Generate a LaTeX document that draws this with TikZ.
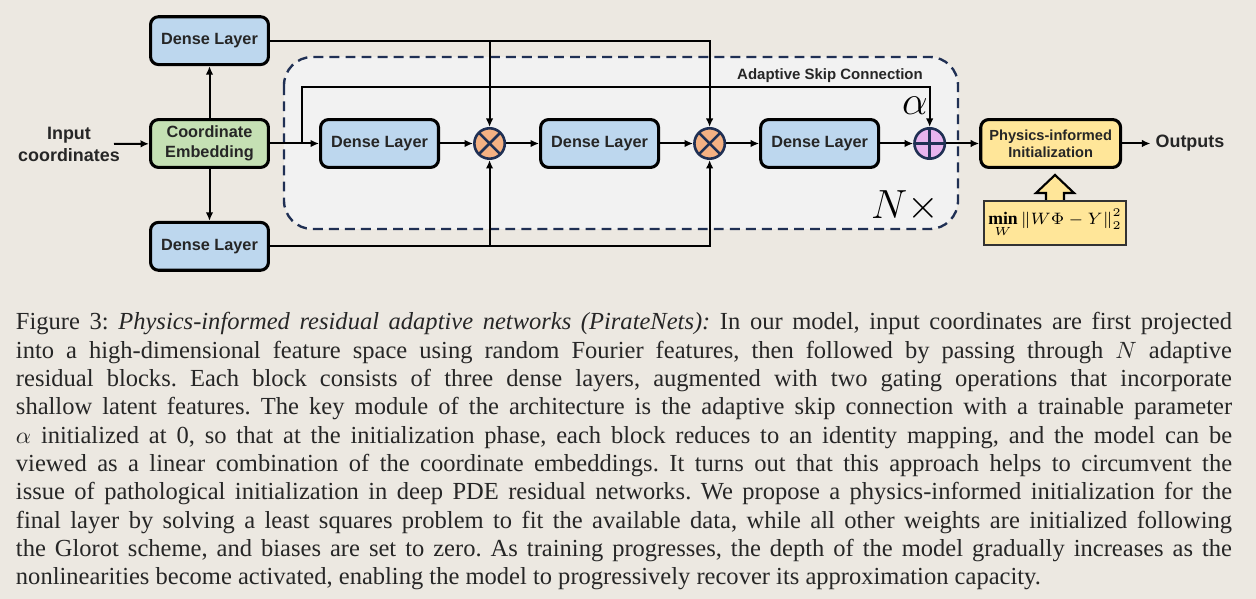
\documentclass[tikz,border=0pt]{standalone}
\usepackage{fontspec}
\usepackage{amsmath,amssymb}
\setmainfont{Liberation Serif}
\setsansfont{Liberation Sans}
\usetikzlibrary{arrows.meta,positioning,calc}
\definecolor{bgcol}{RGB}{236,232,225}
\definecolor{framefill}{RGB}{242,242,242}
\definecolor{navy}{RGB}{32,48,84}
\definecolor{denseblue}{RGB}{189,215,238}
\definecolor{embgreen}{RGB}{197,224,180}
\definecolor{physyellow}{RGB}{255,230,153}
\definecolor{mulorange}{RGB}{244,177,131}
\definecolor{addpink}{RGB}{232,180,238}
\definecolor{txtgray}{RGB}{38,38,38}
\tikzset{
    x=0.424pt,y=-0.424pt,
    >={Latex[length=3.6pt,width=3.2pt]},
    node distance =14pt and 14pt,
    conn/.style={line width=0.85pt},
    layer/.style={draw=black, fill=denseblue, rounded corners=3.4pt, line width=1.3pt,
        minimum width=50pt, minimum height=20.3pt, inner sep=0pt, align=center,
        text=txtgray, font=\sffamily\bfseries\fontsize{6.9}{8.5}\selectfont},
    embbox/.style={layer, fill=embgreen},
    physbox/.style={layer, fill=physyellow, minimum width=59.3pt,
        font=\sffamily\bfseries\fontsize{6.2}{7.1}\selectfont},
    gate/.style={circle, draw=navy, line width=1.1pt, minimum size=12.9pt, inner sep=0pt},
    mulgate/.style={gate, fill=mulorange, path picture={
        \draw[navy, line width=1.1pt] (path picture bounding box.north west) -- (path picture bounding box.south east)
            (path picture bounding box.north east) -- (path picture bounding box.south west);}},
    addgate/.style={gate, fill=addpink, path picture={
        \draw[navy, line width=1.1pt] (path picture bounding box.north) -- (path picture bounding box.south)
            (path picture bounding box.west) -- (path picture bounding box.east);}},
    lbl/.style={text=txtgray, align=center, inner sep=0pt, font=\sffamily\bfseries\fontsize{7.6}{9.3}\selectfont},
    fmlbox/.style={draw=black!80, fill=physyellow, line width=0.9pt, minimum width=60pt, minimum height=18.6pt, inner sep=0pt},
    fatarrow/.style={draw=black, fill=physyellow, line width=0.9pt},
    frame/.style={draw=navy, fill=framefill, line width=1pt, dash pattern=on 4.2pt off 2.6pt, rounded corners=12pt}
}

\begin{document}
\begin{tikzpicture}
    \fill[bgcol] (0,0) rectangle (1256,599);
    \useasboundingbox (0,0) rectangle (1256,599);
    \draw[frame] (284,57) rectangle (958,229);

    \node[embbox] (emb) at (209.5,143.5) {Coordinate\\Embedding};
    \node[layer] (dlTop) [above =22pt of emb] {Dense Layer};
    \node[layer] (dlBot) [below =22pt of emb] {Dense Layer};
    \node[layer] (dl1) [right =20.8pt of emb] {Dense Layer};
    \node[mulgate] (mul1) [right =of dl1] {};
    \node[layer] (dl2) [right =of mul1] {Dense Layer};
    \node[mulgate] (mul2) [right =of dl2] {};
    \node[layer] (dl3) [right =of mul2] {Dense Layer};
    \node[addgate] (addg) [right =of dl3] {};
    \node[physbox] (phys) [right =of addg] {Physics-informed\\Initialization};
    \node[lbl, inner sep=2pt] (out) [right =12pt of phys] {Outputs};
    \node[lbl] (inp) at (69,144) {Input\\coordinates};
    \node[fmlbox] (fml) at (1055,223) {\fontsize{7.5}{9}\selectfont$\displaystyle\mathop{\mathbf{min}}_W \|W\Phi - Y\|_2^2$};

    \node[text=txtgray, font=\sffamily\bfseries\fontsize{6.35}{7}\selectfont] (skiplbl) at (830,76) {Adaptive Skip Connection};
    \node[font=\fontsize{16}{18}\selectfont] (alpha) at (915,106) {$\alpha$};
    \node[font=\fontsize{16}{18}\selectfont] (ntimes) at (905,206) {$N\times$};

    \coordinate (instart) at (114,144);
    \coordinate (skipsplit) at ($(emb.east)+(32,0)$);
    \coordinate (skiptop) at ($(skipsplit)+(0,-56)$);

    \draw[conn,->] (instart) -- (emb);
    \draw[conn,->] (emb) -- (dlTop);
    \draw[conn,->] (emb) -- (dlBot);
    \draw[conn,->] (emb) -- (dl1);
    \draw[conn,->] (dl1) -- (mul1);
    \draw[conn,->] (mul1) -- (dl2);
    \draw[conn,->] (dl2) -- (mul2);
    \draw[conn,->] (mul2) -- (dl3);
    \draw[conn,->] (dl3) -- (addg);
    \draw[conn,->] (addg) -- (phys);
    \draw[conn,->] (phys) -- (out);
    \draw[conn,->] (dlTop) -| (mul1);
    \draw[conn,->] (dlTop) -| (mul2);
    \draw[conn,->] (dlBot) -| (mul1);
    \draw[conn,->] (dlBot) -| (mul2);
    \draw[conn,->] (skipsplit) -- (skiptop) -| (addg);
    \draw[fatarrow] ($(fml.north)+(-9,0)$) -- ++(0,-7) -- ++(-10,0) -- ($(fml.north |- phys.south)+(0,6)$)
        -- ($(fml.north)+(19,-7)$) -- ++(-10,0) -- ($(fml.north)+(9,0)$);

    \node[anchor=base west, inner sep=0pt, text width=515.6pt, align=justify,
        font=\fontsize{10.4}{12}\selectfont\frenchspacing, text=black!85] (cap) at (15.5,330) {%
        Figure 3: \textit{Physics-informed residual adaptive networks (PirateNets):} In our model, input coordinates are first projected\linebreak
        into a high-dimensional feature space using random Fourier features, then followed by passing through $N$ adaptive\linebreak
        residual blocks. Each block consists of three dense layers, augmented with two gating operations that incorporate\linebreak
        shallow latent features. The key module of the architecture is the adaptive skip connection with a trainable parameter\linebreak
        $\alpha$ initialized at 0, so that at the initialization phase, each block reduces to an identity mapping, and the model can be\linebreak
        viewed as a linear combination of the coordinate embeddings. It turns out that this approach helps to circumvent the\linebreak
        issue of pathological initialization in deep PDE residual networks. We propose a physics-informed initialization for the\linebreak
        final layer by solving a least squares problem to fit the available data, while all other weights are initialized following\linebreak
        the Glorot scheme, and biases are set to zero. As training progresses, the depth of the model gradually increases as the\linebreak
        nonlinearities become activated, enabling the model to progressively recover its approximation capacity.};
\end{tikzpicture}
\end{document}
